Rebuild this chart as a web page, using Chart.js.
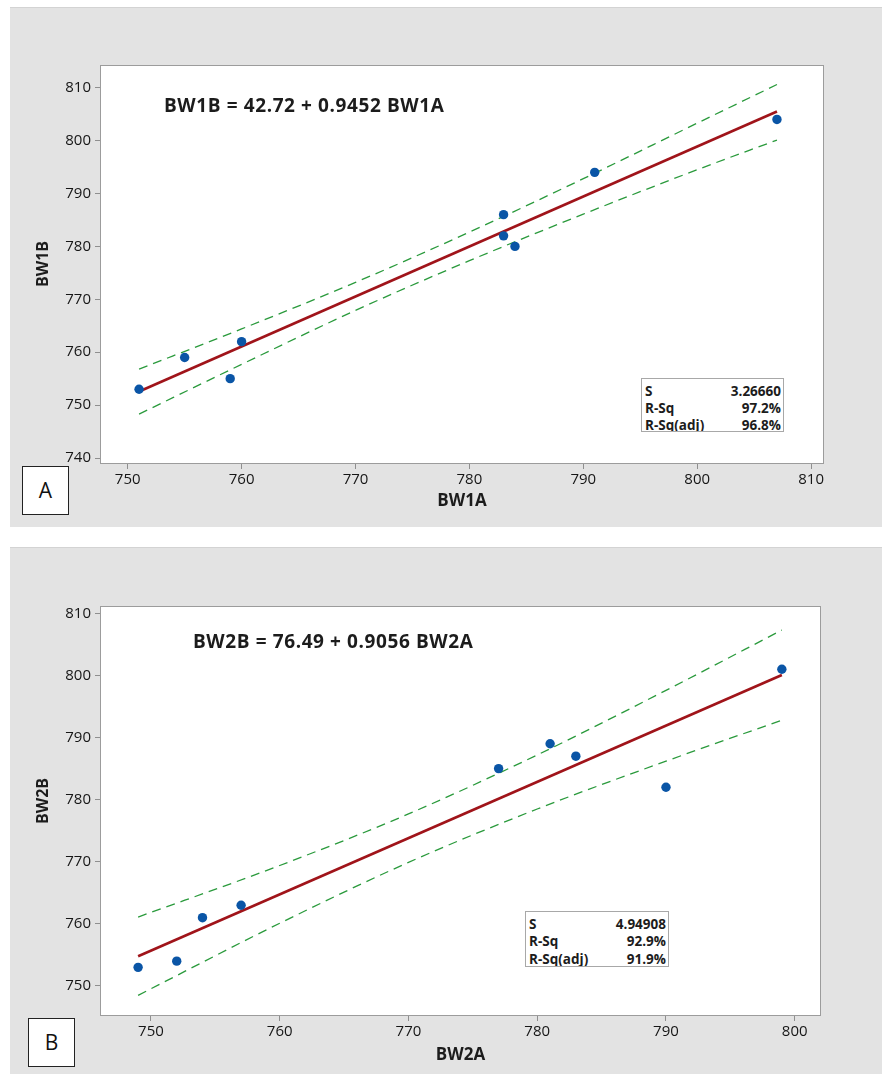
<!DOCTYPE html>
<html>
<head>
<meta charset="utf-8">
<title>BW regression plots</title>
<script src="https://cdn.jsdelivr.net/npm/chart.js@4/dist/chart.umd.min.js"></script>
<style>
  html, body { margin: 0; padding: 0; background: #fff; width: 882px; height: 1074px; overflow: hidden; }
  body { position: relative; font-family: "Open Sans", "Noto Sans", sans-serif; color: #1a1a1a; }
  .panel { position: absolute; left: 10px; width: 872px; background: #e3e3e3; border-top: 1px solid #d3d3d3; box-sizing: border-box; }
  .panel canvas { position: absolute; left: 0; top: 0; }
  .eq { position: absolute; font-size: 19px; font-weight: 700; line-height: 24px; letter-spacing: 0.6px; white-space: pre; color: #1c1c1c; }
  .stats { position: absolute; background: #fff; border: 1px solid #a8a8a8; box-sizing: border-box; overflow: hidden;
           font-size: 13.5px; font-weight: 700; line-height: 17px; padding: 4px 2px 0 3px; color: #1c1c1c; }
  .stats .row { display: flex; justify-content: space-between; white-space: pre; }
  .tag { position: absolute; width: 47px; height: 49px; background: #fff; border: 1.5px solid #222; box-sizing: border-box;
         font-size: 21px; line-height: 46px; text-align: center; color: #111; }
</style>
</head>
<body>

<div class="panel" id="panelA" style="top:7px;height:520px;"><canvas id="chartA" width="872" height="520"></canvas></div>
<div class="panel" id="panelB" style="top:547px;height:527px;"><canvas id="chartB" width="872" height="527"></canvas></div>

<div class="eq" id="eqA" style="left:164px;top:93px;"></div>
<div class="eq" id="eqB" style="left:193px;top:629px;"></div>

<div class="stats" id="statsA" style="left:641px;top:378px;width:143px;height:54px;"></div>
<div class="stats" id="statsB" style="left:525px;top:911px;width:144px;height:56px;padding-top:3.5px;line-height:17.5px;"></div>

<div class="tag" style="left:22px;top:466px;">A</div>
<div class="tag" style="left:28px;top:1018px;">B</div>

<script>
// ---- Panel A: BW1A vs BW1B ----
const bw1a = [751, 755, 759, 760, 783, 783, 784, 791, 807];
const bw1b = [753, 759, 755, 762, 786, 782, 780, 794, 804];
const fitA = { intercept: 42.72, slope: 0.9452 };
const ciXA  = [751, 760, 770, 780, 790, 800, 807];
const ciUpA = [756.8, 764.4, 773.2, 782.7, 792.8, 803.3, 810.6];
const ciLoA = [748.3, 757.7, 767.9, 777.3, 786.1, 794.5, 800.1];
const statLabels = ['S', 'R-Sq', 'R-Sq(adj)'];
const statsAValues = ['3.26660', '97.2%', '96.8%'];
const xTicksA = [750, 760, 770, 780, 790, 800, 810];
const yTicksA = [740, 750, 760, 770, 780, 790, 800, 810];

// ---- Panel B: BW2A vs BW2B ----
const bw2a = [749, 752, 754, 757, 777, 781, 783, 790, 799];
const bw2b = [753, 754, 761, 763, 785, 789, 787, 782, 801];
const fitB = { intercept: 76.49, slope: 0.9056 };
const ciXB  = [749, 760, 770, 780, 790, 799];
const ciUpB = [761.1, 769.4, 777.7, 787.2, 797.6, 807.3];
const ciLoB = [748.5, 760.1, 769.9, 778.5, 786.2, 792.8];
const statsBValues = ['4.94908', '92.9%', '91.9%'];
const xTicksB = [750, 760, 770, 780, 790, 800];
const yTicksB = [750, 760, 770, 780, 790, 800, 810];

const FONT = '"Open Sans", "Noto Sans", sans-serif';
const POINT_COLOR = '#0a55a6';
const FIT_COLOR = '#a0141a';
const CI_COLOR = '#2a9a3c';

function zip(xs, ys) { return xs.map((x, i) => ({ x, y: ys[i] })); }

function fitEnds(xs, fit) {
  const lo = Math.min(...xs), hi = Math.max(...xs);
  return [lo, hi].map(x => ({ x, y: fit.intercept + fit.slope * x }));
}

// White plotting region with a thin grey frame
const plotFrame = {
  id: 'plotFrame',
  beforeDatasetsDraw(chart) {
    const { ctx, chartArea: a } = chart;
    ctx.save();
    ctx.fillStyle = '#ffffff';
    ctx.fillRect(a.left, a.top, a.right - a.left, a.bottom - a.top);
    ctx.strokeStyle = '#9c9c9c';
    ctx.lineWidth = 1;
    ctx.strokeRect(a.left + 0.5, a.top + 0.5, a.right - a.left - 1, a.bottom - a.top - 1);
    ctx.restore();
  }
};

// Rotated y-axis caption
const yCaption = {
  id: 'yCaption',
  afterDraw(chart, args, opts) {
    const { ctx } = chart;
    ctx.save();
    ctx.translate(opts.x, opts.y);
    ctx.rotate(-Math.PI / 2);
    ctx.font = `bold 16px ${FONT}`;
    ctx.fillStyle = '#1c1c1c';
    ctx.textAlign = 'center';
    ctx.textBaseline = 'middle';
    ctx.fillText(opts.text, 0, 0);
    ctx.restore();
  }
};

function buildChart(canvasId, cfg) {
  const tickFont = { family: FONT, size: 15, weight: '500' };
  const gridOpts = { drawOnChartArea: false, drawTicks: true, tickLength: 5, color: '#8f8f8f', lineWidth: 1 };
  return new Chart(document.getElementById(canvasId), {
    data: {
      datasets: [
        { type: 'scatter', data: zip(cfg.xs, cfg.ys), pointRadius: 4.7, pointHoverRadius: 4.7,
          backgroundColor: POINT_COLOR, borderColor: POINT_COLOR, borderWidth: 0 },
        { type: 'line', data: fitEnds(cfg.xs, cfg.fit), borderColor: FIT_COLOR, borderWidth: 2.6,
          pointRadius: 0, fill: false },
        { type: 'line', data: zip(cfg.ciX, cfg.ciUp), borderColor: CI_COLOR, borderWidth: 1.3,
          borderDash: [9, 6], pointRadius: 0, fill: false, cubicInterpolationMode: 'monotone' },
        { type: 'line', data: zip(cfg.ciX, cfg.ciLo), borderColor: CI_COLOR, borderWidth: 1.3,
          borderDash: [9, 6], pointRadius: 0, fill: false, cubicInterpolationMode: 'monotone' }
      ]
    },
    options: {
      responsive: false,
      animation: false,
      devicePixelRatio: 1,
      layout: { padding: cfg.padding },
      plugins: {
        legend: { display: false },
        tooltip: { enabled: false },
        yCaption: cfg.yCaption
      },
      scales: {
        x: {
          type: 'linear', min: cfg.xRange[0], max: cfg.xRange[1],
          afterBuildTicks: s => { s.ticks = cfg.xTicks.map(v => ({ value: v })); },
          afterFit: s => { s.height = cfg.xAxisHeight; },
          ticks: { font: tickFont, color: '#161616', padding: 2, maxRotation: 0, callback: v => String(v) },
          grid: gridOpts,
          border: { display: false },
          title: { display: true, text: cfg.xTitle, color: '#1c1c1c',
                   font: { family: FONT, size: 17, weight: 'bold' }, padding: { top: 0, bottom: cfg.xTitlePad } }
        },
        y: {
          type: 'linear', min: cfg.yRange[0], max: cfg.yRange[1],
          afterBuildTicks: s => { s.ticks = cfg.yTicks.map(v => ({ value: v })); },
          afterFit: s => { s.width = 90; },
          ticks: { font: tickFont, color: '#161616', padding: 4, callback: v => String(v) },
          grid: gridOpts,
          border: { display: false }
        }
      }
    },
    plugins: [plotFrame, yCaption]
  });
}

buildChart('chartA', {
  xs: bw1a, ys: bw1b, fit: fitA, ciX: ciXA, ciUp: ciUpA, ciLo: ciLoA,
  xTicks: xTicksA, yTicks: yTicksA,
  xRange: [747.57, 811.13], yRange: [738.87, 814.29],
  padding: { top: 57, right: 58, left: 0, bottom: 0 },
  xAxisHeight: 64, xTitle: 'BW1A', xTitlePad: 17,
  yCaption: { text: 'BW1B', x: 33, y: 256 }
});

buildChart('chartB', {
  xs: bw2a, ys: bw2b, fit: fitB, ciX: ciXB, ciUp: ciUpB, ciLo: ciLoB,
  xTicks: xTicksB, yTicks: yTicksB,
  xRange: [746.04, 802.04], yRange: [745.17, 811.18],
  padding: { top: 58, right: 61, left: 0, bottom: 0 },
  xAxisHeight: 59, xTitle: 'BW2A', xTitlePad: 10,
  yCaption: { text: 'BW2B', x: 33, y: 253 }
});

// Regression equations and fit summaries
document.getElementById('eqA').textContent = `BW1B = ${fitA.intercept.toFixed(2)} + ${fitA.slope.toFixed(4)} BW1A`;
document.getElementById('eqB').textContent = `BW2B = ${fitB.intercept.toFixed(2)} + ${fitB.slope.toFixed(4)} BW2A`;

function fillStats(id, values) {
  document.getElementById(id).innerHTML = statLabels
    .map((l, i) => `<div class="row"><span>${l}</span><span>${values[i]}</span></div>`).join('');
}
fillStats('statsA', statsAValues);
fillStats('statsB', statsBValues);
</script>
</body>
</html>
